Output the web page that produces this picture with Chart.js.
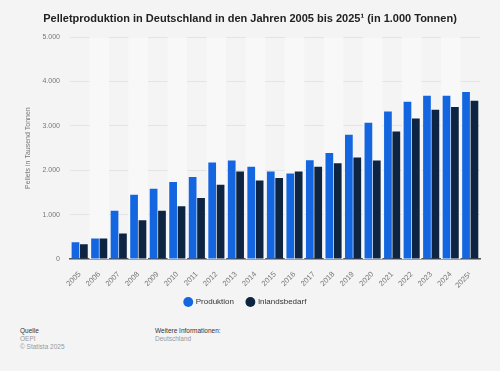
<!DOCTYPE html>
<html>
<head>
<meta charset="utf-8">
<script src="https://cdn.jsdelivr.net/npm/chart.js@4"></script>
<style>
  html, body { margin: 0; padding: 0; background: #f4f4f4; }
  body { width: 500px; height: 371px; position: relative; overflow: hidden; font-family: "Liberation Sans", Arial, sans-serif; }
  #wrap { position: absolute; left: 0; top: 0; width: 500px; height: 316px; }
  .foot { position: absolute; font-size: 6.5px; line-height: 8px; color: #999; }
  .foot b { color: #333; font-weight: normal; }
</style>
</head>
<body>
<div id="wrap"><canvas id="pelletChart"></canvas></div>
<div class="foot" style="left:20px; top:327px;"><b>Quelle</b><br>OEPI<br>© Statista 2025</div>
<div class="foot" style="left:155px; top:327px;"><b>Weitere Informationen:</b><br>Deutschland</div>
<script>
const years = ['2005', '2006', '2007', '2008', '2009', '2010', '2011', '2012', '2013', '2014', '2015',
    '2016', '2017', '2018', '2019', '2020', '2021', '2022', '2023', '2024', '2025¹'];
const produktion = [375, 460, 1085, 1450, 1585, 1735, 1850, 2175, 2220, 2080, 1975,
    1930, 2225, 2390, 2800, 3070, 3325, 3545, 3680, 3680, 3765];
const inlandsbedarf = [335, 460, 575, 875, 1085, 1190, 1375, 1675, 1975, 1770, 1825,
    1975, 2080, 2160, 2290, 2220, 2875, 3170, 3365, 3425, 3570];
const yTicks = [0, 1000, 2000, 3000, 4000, 5000];

// light stripes behind every second year
const stripePlugin = {
    id: 'stripes',
    beforeDatasetsDraw(chart) {
        const { ctx, chartArea, scales } = chart;
        const slot = (chartArea.right - chartArea.left) / years.length;
        ctx.save();
        ctx.fillStyle = '#f8f8f8';
        years.forEach((y, i) => {
            if (i % 2 === 1) {
                const cx = scales.x.getPixelForValue(i);
                ctx.fillRect(cx - slot / 2, chartArea.top, slot, chartArea.bottom - chartArea.top);
            }
        });
        ctx.restore();
    }
};

const ctx = document.getElementById('pelletChart').getContext('2d');
new Chart(ctx, {
    type: 'bar',
    data: {
        labels: years,
        datasets: [
            {
                label: 'Produktion',
                data: produktion,
                backgroundColor: '#1466e0',
                categoryPercentage: 0.86,
                barPercentage: 0.92
            },
            {
                label: 'Inlandsbedarf',
                data: inlandsbedarf,
                backgroundColor: '#0d2542',
                categoryPercentage: 0.86,
                barPercentage: 0.92
            }
        ]
    },
    plugins: [stripePlugin],
    options: {
        responsive: true,
        maintainAspectRatio: false,
        animation: false,
        layout: { padding: { left: 20, right: 20, top: 0, bottom: 0 } },
        plugins: {
            title: {
                display: true,
                text: 'Pelletproduktion in Deutschland in den Jahren 2005 bis 2025¹ (in 1.000 Tonnen)',
                color: '#222',
                font: { family: 'Liberation Sans', size: 11, weight: 'bold' },
                padding: { top: 12, bottom: 12 }
            },
            legend: {
                display: true,
                position: 'bottom',
                labels: {
                    usePointStyle: true,
                    pointStyle: 'circle',
                    boxWidth: 7,
                    boxHeight: 7,
                    padding: 4,
                    color: '#333',
                    font: { family: 'Liberation Sans', size: 8 },
                    generateLabels: chart => Chart.defaults.plugins.legend.labels.generateLabels(chart)
                        .map(item => ({ ...item, text: item.text + '    ' }))
                }
            },
            tooltip: { enabled: false }
        },
        scales: {
            y: {
                min: 0,
                max: 5000,
                afterBuildTicks: axis => { axis.ticks = yTicks.map(v => ({ value: v })); },
                border: { display: false },
                grid: { color: '#e4e4e4', drawTicks: false },
                ticks: {
                    padding: 10,
                    color: '#777',
                    font: { family: 'Liberation Sans', size: 7 },
                    callback: value => value.toLocaleString('de-DE')
                },
                title: {
                    display: true,
                    text: 'Pellets in Tausend Tonnen',
                    color: '#777',
                    font: { family: 'Liberation Sans', size: 7 },
                    padding: { top: 4, bottom: 0 }
                }
            },
            x: {
                afterFit: scale => { scale.height = 35; },
                border: { display: true, color: '#555', width: 1.5 },
                grid: { display: false },
                ticks: {
                    maxRotation: 45,
                    minRotation: 45,
                    padding: 3,
                    color: '#777',
                    font: { family: 'Liberation Sans', size: 7.5 }
                }
            }
        }
    }
});
</script>
</body>
</html>
